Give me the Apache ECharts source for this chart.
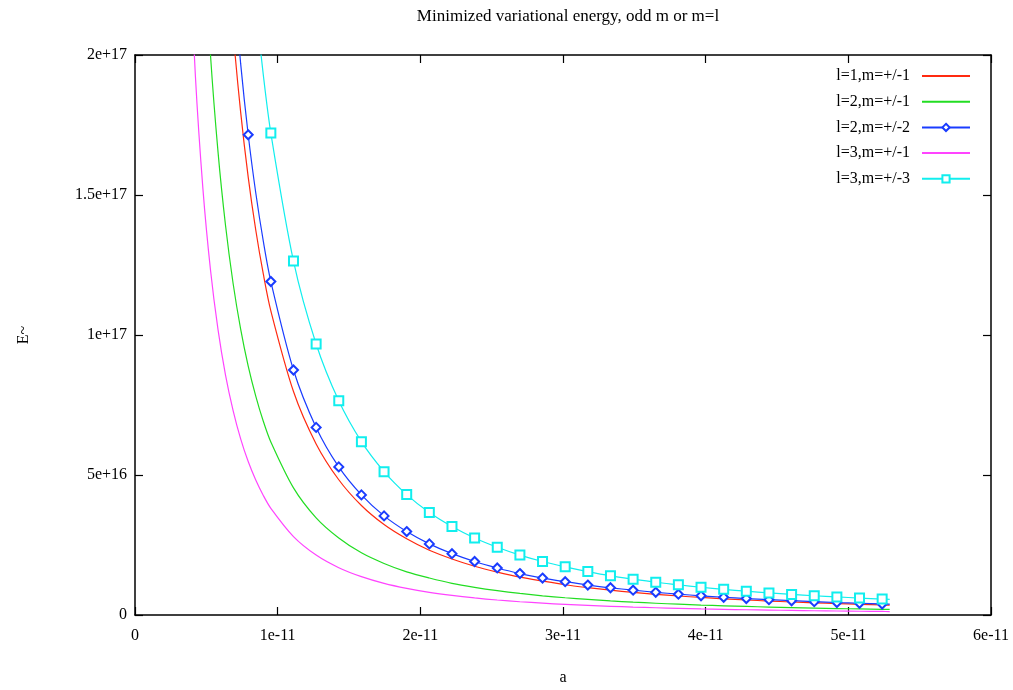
<!DOCTYPE html>
<html>
<head>
<meta charset="utf-8">
<script src="https://cdn.jsdelivr.net/npm/echarts@6/dist/echarts.min.js"></script>
<style>
html,body{margin:0;padding:0;background:#fff;}
#chart{width:1013px;height:690px;}
</style>
</head>
<body>
<div id="chart"></div>
<script>
// a in units of 1e-11 ; E in units of 1e17
const kSteps = [6,7,8,9,10,11,12,13,14,15,16,17,18,21,24,27,30,33,36,39,42,45,48,51,54,57,60,63,66,69,72,75,78,81,84,87,90,93,96,99,100];
const aValues = [0.3174,0.3703,0.4232,0.4761,0.5290,0.5819,0.6348,0.6877,0.7406,0.7935,0.8464,0.8993,0.9522,1.1109,1.2696,1.4283,1.5870,1.7457,1.9044,2.0631,2.2218,2.3805,2.5392,2.6979,2.8566,3.0153,3.1740,3.3327,3.4914,3.6501,3.8088,3.9675,4.1262,4.2849,4.4436,4.6023,4.7610,4.9197,5.0784,5.2371,5.2900];

const eL1M1 = [9.777,7.184,5.500,4.346,3.520,2.909,2.444,2.083,1.796,1.564,1.375,1.218,1.086,0.798,0.611,0.483,0.391,0.323,0.272,0.231,0.200,0.174,0.153,0.135,0.121,0.108,0.0978,0.0887,0.0808,0.0739,0.0679,0.0626,0.0579,0.0536,0.0499,0.0465,0.0435,0.0407,0.0382,0.0359,0.0352];
const eL2M1 = [5.559,4.084,3.127,2.471,2.001,1.654,1.390,1.184,1.021,0.889,0.782,0.692,0.618,0.454,0.347,0.275,0.222,0.184,0.154,0.132,0.113,0.0988,0.0869,0.0769,0.0686,0.0616,0.0556,0.0504,0.0459,0.0420,0.0386,0.0356,0.0329,0.0305,0.0284,0.0264,0.0247,0.0231,0.0217,0.0204,0.0200];
const eL2M2 = [10.72,7.876,6.031,4.765,3.859,3.190,2.680,2.284,1.969,1.715,1.508,1.335,1.191,0.875,0.670,0.529,0.429,0.354,0.298,0.254,0.219,0.191,0.168,0.148,0.132,0.119,0.107,0.0972,0.0886,0.0811,0.0744,0.0686,0.0634,0.0588,0.0547,0.0510,0.0476,0.0446,0.0419,0.0394,0.0386];
const eL3M1 = [3.424,2.516,1.926,1.522,1.233,1.019,0.856,0.730,0.629,0.548,0.482,0.427,0.381,0.280,0.214,0.169,0.137,0.113,0.0951,0.0810,0.0699,0.0609,0.0535,0.0474,0.0423,0.0380,0.0342,0.0311,0.0283,0.0259,0.0238,0.0219,0.0203,0.0188,0.0175,0.0163,0.0152,0.0143,0.0134,0.0126,0.0123];
const eL3M3 = [15.48,11.38,8.711,6.883,5.575,4.607,3.871,3.299,2.844,2.478,2.178,1.929,1.721,1.264,0.968,0.765,0.619,0.512,0.430,0.366,0.316,0.275,0.242,0.214,0.191,0.172,0.155,0.140,0.128,0.117,0.108,0.0991,0.0916,0.0850,0.0790,0.0736,0.0688,0.0645,0.0605,0.0569,0.0557];

const seriesNames = ['l=1,m=+/-1','l=2,m=+/-1','l=2,m=+/-2','l=3,m=+/-1','l=3,m=+/-3'];
const xTickLabels = ['0','1e-11','2e-11','3e-11','4e-11','5e-11','6e-11'];
const yTickLabels = ['0','5e+16','1e+17','1.5e+17','2e+17'];

const FONT = '"Liberation Serif", "DejaVu Serif", serif';

function build(vals, marked) {
  return aValues.map((a, i) => {
    const item = { value: [a, vals[i]] };
    if (!marked || kSteps[i] % 3 !== 0) item.symbol = 'none';
    return item;
  });
}

const chart = echarts.init(document.getElementById('chart'), null, { renderer: 'canvas' });

const mirrorX = {
  type: 'value', min: 0, max: 6, interval: 1,
  axisLine: { show: true, onZero: false, lineStyle: { color: '#000', width: 1.5 } },
  axisTick: { show: true, inside: true, length: 8, lineStyle: { color: '#000', width: 1.2 } },
  splitLine: { show: false }
};
const mirrorY = {
  type: 'value', min: 0, max: 2, interval: 0.5,
  axisLine: { show: true, onZero: false, lineStyle: { color: '#000', width: 1.5 } },
  axisTick: { show: true, inside: true, length: 8, lineStyle: { color: '#000', width: 1.2 } },
  splitLine: { show: false }
};

const lineSeries = (name, vals, color, marked, symbol) => ({
  name, type: 'line', xAxisIndex: 0, yAxisIndex: 0,
  data: build(vals, marked),
  smooth: 0.3,
  symbol: marked ? symbol : 'none',
  symbolSize: 9,
  showSymbol: true,
  clip: true,
  animation: false,
  lineStyle: { color, width: 1.2 },
  itemStyle: { color, borderColor: color, borderWidth: 1.2 },
  emphasis: { disabled: true }
});

const legendData = seriesNames.map((n, i) => (i === 2 || i === 4) ? { name: n } : { name: n, itemStyle: { opacity: 0 } });

chart.setOption({
  backgroundColor: '#fff',
  animation: false,
  title: {
    text: 'Minimized variational energy, odd m or m=l',
    left: 563, top: 3, textAlign: 'center',
    textStyle: { fontFamily: FONT, fontSize: 17, fontWeight: 'normal', color: '#000' }
  },
  legend: {
    orient: 'vertical', right: 37, top: 63,
    align: 'right',
    itemWidth: 48, itemHeight: 9, itemGap: 9.7,
    textStyle: { fontFamily: FONT, fontSize: 16, color: '#000', padding: [0, 7, 0, 0] },
    data: legendData
  },
  grid: { left: 135, right: 22, top: 55, bottom: 75, containLabel: false, outerBoundsMode: 'none' },
  xAxis: [
    Object.assign({}, mirrorX, {
      position: 'bottom',
      name: 'a', nameLocation: 'middle', nameGap: 55,
      nameTextStyle: { fontFamily: FONT, fontSize: 16, color: '#000' },
      axisLabel: { show: true, margin: 13, fontFamily: FONT, fontSize: 16, color: '#000',
        formatter: v => xTickLabels[Math.round(v)] }
    }),
    Object.assign({}, mirrorX, { position: 'top', axisLabel: { show: false } })
  ],
  yAxis: [
    Object.assign({}, mirrorY, {
      position: 'left',
      name: 'E~', nameLocation: 'middle', nameGap: 103, nameRotate: 90,
      nameTextStyle: { fontFamily: FONT, fontSize: 16, color: '#000' },
      axisLabel: { show: true, margin: 8, fontFamily: FONT, fontSize: 16, color: '#000',
        formatter: v => yTickLabels[Math.round(v / 0.5)] }
    }),
    Object.assign({}, mirrorY, { position: 'right', axisLabel: { show: false } })
  ],
  series: [
    lineSeries(seriesNames[0], eL1M1, '#ff2a10', false),
    lineSeries(seriesNames[1], eL2M1, '#22dd22', false),
    lineSeries(seriesNames[2], eL2M2, '#1a3cff', true, 'emptyDiamond'),
    lineSeries(seriesNames[3], eL3M1, '#ff44ff', false),
    lineSeries(seriesNames[4], eL3M3, '#11eeee', true, 'emptyRect')
  ]
});
</script>
</body>
</html>
